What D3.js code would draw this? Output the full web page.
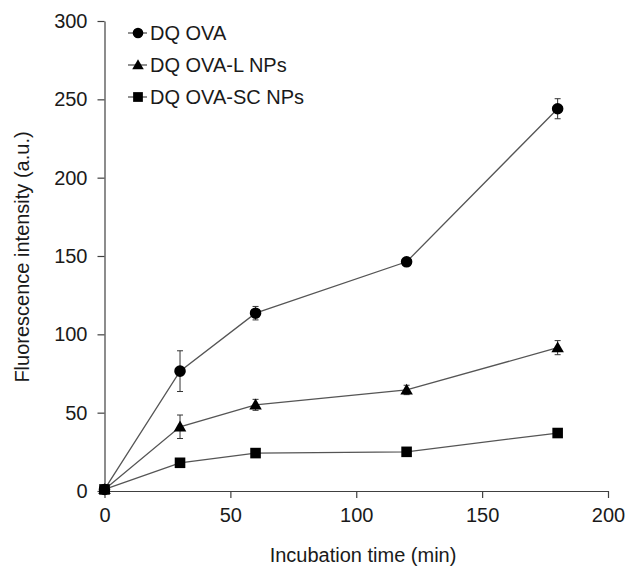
<!DOCTYPE html>
<html>
<head>
<meta charset="utf-8">
<script src="https://cdn.jsdelivr.net/npm/d3@7"></script>
<style>
body { margin: 0; background: #fff; }
svg text { font-family: "Liberation Sans", Arial, sans-serif; fill: #1a1a1a; }
</style>
</head>
<body>
<svg id="chart" width="626" height="568"></svg>
<script>
const times = [0, 30, 60, 120, 180];
const seriesNames = ["DQ OVA", "DQ OVA-L NPs", "DQ OVA-SC NPs"];
const ovaValues = [1, 76.5, 113.5, 146.3, 244];
const ovaErrors = [0, 13, 4.3, 2, 6.4];
const lnpValues = [1, 41, 55, 64.5, 91.5];
const lnpErrors = [0, 7.5, 3.5, 3, 4.5];
const scnpValues = [1, 18, 24.2, 25, 37];
const scnpErrors = [0, 0.8, 0.8, 0.8, 0.8];
const markerTypes = ["circle", "triangle", "square"];
const xTicks = [0, 50, 100, 150, 200];
const yTicks = [0, 50, 100, 150, 200, 250, 300];

const svg = d3.select("#chart");
const x = d3.scaleLinear().domain([0, 200]).range([104.5, 608]);
const y = d3.scaleLinear().domain([0, 300]).range([491, 21]);

const axisColor = "#404040";
const lineColor = "#555";
const fontSize = 20;

// axes
const xAxis = svg.append("g").attr("transform", `translate(0,${y(0)})`)
  .call(d3.axisBottom(x).tickValues(xTicks).tickSizeOuter(0).tickSizeInner(7).tickPadding(10));
const yAxis = svg.append("g").attr("transform", `translate(${x(0)},0)`)
  .call(d3.axisLeft(y).tickValues(yTicks).tickSizeOuter(0).tickSizeInner(7).tickPadding(10));
[xAxis, yAxis].forEach(g => {
  g.selectAll("path, line").attr("stroke", axisColor).attr("stroke-width", 1.2);
  g.selectAll("text").attr("font-size", fontSize).attr("font-family", "Liberation Sans, Arial, sans-serif").attr("fill", "#1a1a1a");
});

// titles
svg.append("text").attr("x", 363).attr("y", 562).attr("text-anchor", "middle")
  .attr("font-size", fontSize).text("Incubation time (min)");
svg.append("text").attr("transform", "translate(29,257) rotate(-90)").attr("text-anchor", "middle")
  .attr("font-size", fontSize).text("Fluorescence intensity (a.u.)");

const data = [
  {name: seriesNames[0], values: ovaValues, errors: ovaErrors, marker: markerTypes[0]},
  {name: seriesNames[1], values: lnpValues, errors: lnpErrors, marker: markerTypes[1]},
  {name: seriesNames[2], values: scnpValues, errors: scnpErrors, marker: markerTypes[2]}
];

const symbolFor = m => m === "circle" ? d3.symbolCircle : (m === "triangle" ? d3.symbolTriangle : d3.symbolSquare);
const sizeFor = m => m === "circle" ? 105 : (m === "triangle" ? 68 : 112);

const line = d3.line().x((d, i) => x(times[i])).y(d => y(d));

data.forEach(s => {
  svg.append("path").datum(s.values).attr("d", line)
    .attr("fill", "none").attr("stroke", lineColor).attr("stroke-width", 1.3);
  // error bars
  const eg = svg.append("g").attr("stroke", "#333").attr("stroke-width", 1);
  s.values.forEach((v, i) => {
    const e = s.errors[i];
    if (e <= 0) return;
    const cx = x(times[i]);
    eg.append("line").attr("x1", cx).attr("x2", cx).attr("y1", y(v - e)).attr("y2", y(v + e));
    eg.append("line").attr("x1", cx - 3).attr("x2", cx + 3).attr("y1", y(v - e)).attr("y2", y(v - e));
    eg.append("line").attr("x1", cx - 3).attr("x2", cx + 3).attr("y1", y(v + e)).attr("y2", y(v + e));
  });
  svg.append("g").selectAll("path").data(s.values).join("path")
    .attr("transform", (d, i) => `translate(${x(times[i])},${y(d) + (s.marker === "triangle" ? 1 : 0)})`)
    .attr("d", d3.symbol().type(symbolFor(s.marker)).size(sizeFor(s.marker)))
    .attr("fill", "#000");
});

// legend
const legend = svg.append("g");
data.forEach((s, i) => {
  const ly = 33 + i * 32;
  legend.append("line").attr("x1", 128).attr("x2", 147).attr("y1", ly).attr("y2", ly)
    .attr("stroke", lineColor).attr("stroke-width", 1.3);
  legend.append("path").attr("transform", `translate(138,${ly + (s.marker === "triangle" ? 1 : 0)})`)
    .attr("d", d3.symbol().type(symbolFor(s.marker)).size(sizeFor(s.marker) * 0.85)).attr("fill", "#000");
  legend.append("text").attr("x", 150).attr("y", ly + 7).attr("font-size", fontSize).text(s.name);
});
</script>
</body>
</html>
